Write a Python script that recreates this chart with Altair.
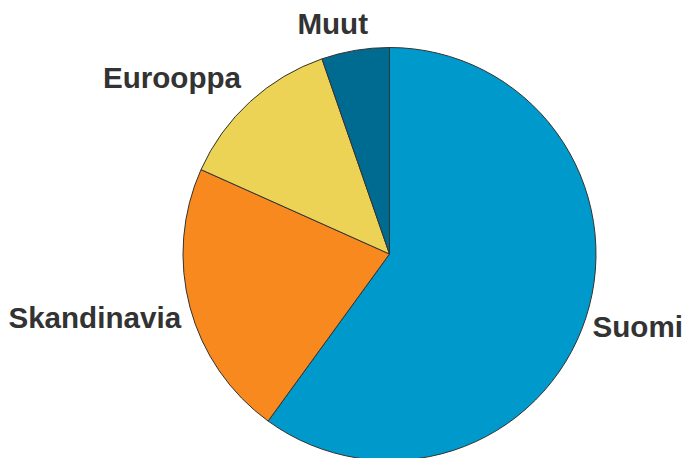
import altair as alt
import pandas as pd

categories = ["Suomi", "Skandinavia", "Eurooppa", "Muut"]
shares = [60.0, 21.7, 13.0, 5.3]
colors = ["#0099CC", "#F7891E", "#ECD255", "#006B91"]

df = pd.DataFrame({"cat": categories, "share": shares, "idx": list(range(len(categories)))})
total = float(sum(shares))
theta_scale = alt.Scale(domain=[0, total])

pie = alt.Chart(df).mark_arc(outerRadius=206.5, stroke="#333333", strokeWidth=1).encode(
    theta=alt.Theta("share:Q", stack=True, scale=theta_scale),
    color=alt.Color("cat:N", scale=alt.Scale(domain=categories, range=colors), legend=None),
    order=alt.Order("idx:Q"),
)

label_styles = {
    "Suomi": dict(align="left", dx=-11, dy=4.5),
    "Skandinavia": dict(align="right", dx=9, dy=7),
    "Eurooppa": dict(align="right", dx=3.5, dy=-9.5),
    "Muut": dict(align="center", dx=-19.5, dy=-7),
}

layers = [pie]
for name in categories:
    st = label_styles[name]
    t = (
        alt.Chart(df)
        .transform_window(cum="sum(share)", sort=[alt.SortField("idx")], frame=[None, 0])
        .transform_calculate(mid="datum.cum - datum.share / 2")
        .transform_filter(alt.datum.cat == name)
        .mark_text(radius=225, baseline="middle", font="Liberation Sans", fontWeight="bold",
                   fontSize=29.6, color="#333333", **st)
        .encode(theta=alt.Theta("mid:Q", stack=None, scale=theta_scale), text="cat:N")
    )
    layers.append(t)

chart = (
    alt.layer(*layers)
    .properties(width=560, height=400,
                autosize=alt.AutoSizeParams(type="none"),
                padding={"left": 101.5, "top": 46, "right": 12.5, "bottom": 4})
    .configure_view(stroke=None)
)

chart.save("out.html", embed_options={"renderer": "svg", "actions": False})
